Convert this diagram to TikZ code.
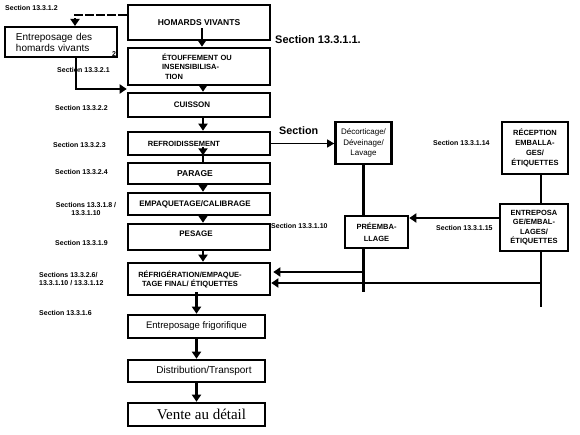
\documentclass[tikz,border=0pt]{standalone}
\usepackage{fontspec}
\setmainfont{Liberation Sans}
\newfontfamily\serifont{Liberation Serif}
\usetikzlibrary{arrows.meta,calc}
\tikzset{
  box/.style={draw, line width=2.6pt, inner sep=0pt, align=center, font=\fontsize{8}{9.5}\selectfont\bfseries},
  rbox/.style={box, font=\fontsize{9.5}{11}\selectfont},
  lbl/.style={inner sep=0pt, font=\fontsize{7}{8.5}\selectfont\bfseries},
  ln/.style={line width=2.2pt},
  arr/.style={line width=2.2pt, -{Triangle[width=9pt,length=7pt]}},
  thinarr/.style={line width=1pt, -{Triangle[width=8pt,length=7pt]}},
  dline/.style={line width=2.2pt, dash pattern=on 9pt off 2pt, -{Triangle[width=9pt,length=7pt]}},
}
\begin{document}
\begin{tikzpicture}[x=1pt,y=-1pt]
\useasboundingbox (0,0) rectangle (580,435);
\fill[white] (0,0) rectangle (580,435);

% main column
\node[box, minimum width=142pt, minimum height=35pt, font=\fontsize{8.5}{10}\selectfont\bfseries] (homards) at (199,22.5) {HOMARDS VIVANTS};
\node[box, align=left, text width=74pt, inner xsep=34pt, minimum height=37pt, font=\fontsize{7.5}{9.5}\selectfont\bfseries] (etouf) at (199,66.5) {ÉTOUFFEMENT OU\\INSENSIBILISA-\\\hspace*{3pt}TION};
\node[box, minimum width=142pt, minimum height=24pt] (cuisson) at (199,105) {CUISSON\hspace*{14pt}};
\node[box, minimum width=142pt, minimum height=23pt, font=\fontsize{7.5}{9}\selectfont\bfseries] (refroid) at (199,143.5) {REFROIDISSEMENT\hspace*{30pt}};
\node[box, minimum width=142pt, minimum height=21pt, font=\fontsize{8.5}{10}\selectfont\bfseries] (parage) at (199,173.5) {PARAGE\hspace*{8pt}};
\node[box, minimum width=142pt, minimum height=22pt] (empaq) at (199,204) {EMPAQUETAGE/CALIBRAGE\hspace*{8pt}};
\node[box, minimum width=142pt, minimum height=26pt] (pesage) at (199,237) {\raisebox{6pt}{PESAGE}\hspace*{6pt}};
\node[box, minimum width=142pt, minimum height=32pt, font=\fontsize{7.5}{9}\selectfont\bfseries] (refrig) at (199,279) {RÉFRIGÉRATION/EMPAQUE-\hspace*{18pt}\\TAGE FINAL/ ÉTIQUETTES\hspace*{18pt}};
\node[rbox, minimum width=137pt, minimum height=23pt] (frigo) at (196.5,326.5) {Entreposage frigorifique};
\node[rbox, minimum width=137pt, minimum height=22pt, font=\fontsize{10}{12}\selectfont] (distrib) at (196.5,371) {\hspace*{15pt}Distribution/Transport};
\node[rbox, minimum width=137pt, minimum height=23pt, font=\fontsize{15}{16}\serifont] (vente) at (196.5,414.5) {\hspace*{10pt}Vente au détail};

% left storage box
\node[box, line width=2pt, align=left, text width=90pt, inner xsep=11pt, minimum height=30pt, font=\fontsize{10}{11}\selectfont] (entrep) at (61,42) {Entreposage des\\homards vivants};

% right column
\node[box, minimum width=56pt, minimum height=42pt, font=\fontsize{8}{10.5}\selectfont] (decort) at (363.5,143) {Décorticage/\\Déveinage/\\Lavage};
\node[box, minimum width=63pt, minimum height=32pt, font=\fontsize{7.5}{12}\selectfont\bfseries] (preemb) at (376.5,232) {PRÉEMBA-\\LLAGE};
\node[box, minimum width=66pt, minimum height=52pt, font=\fontsize{7.5}{10}\selectfont\bfseries] (recep) at (535,148) {RÉCEPTION\\EMBALLA-\\GES/\\ÉTIQUETTES};
\node[box, minimum width=68pt, minimum height=47pt, font=\fontsize{7.5}{9.5}\selectfont\bfseries] (entrepo) at (534,227.5) {ENTREPOSA\\GE/EMBAL-\\LAGES/\\ÉTIQUETTES};

% free-end coordinates
\coordinate (pe) at (363.5,292);
\coordinate (qe) at (541,307);
\coordinate (r1) at ([yshift=7pt]refrig.east);
\coordinate (r2) at ([yshift=-4pt]refrig.east);

% main connectors
\draw[arr] ([xshift=3pt,yshift=13pt]homards.south) -- ([xshift=3pt]etouf.north);
\draw[arr] ([xshift=4pt]etouf.south) -- ([xshift=4pt]cuisson.north);
\draw[arr] ([xshift=4pt]cuisson.south) -- ([xshift=4pt]refroid.north);
\draw[arr] ([xshift=4pt,yshift=9pt]refroid.south) -- ([xshift=4pt,yshift=1pt]refroid.south);
\draw[ln] ([xshift=4pt]refroid.south) -- ([xshift=4pt]parage.north);
\draw[arr] ([xshift=4pt]parage.south) -- ([xshift=4pt]empaq.north);
\draw[arr] ([xshift=4pt]empaq.south) -- ([xshift=4pt]pesage.north);
\draw[arr] ([xshift=4pt]pesage.south) -- ([xshift=4pt]refrig.north);
\draw[arr] ([yshift=4pt]refrig.south -| frigo.north) -- (frigo.north);
\draw[arr] (frigo.south) -- (distrib.north);
\draw[arr] (distrib.south) -- (vente.north);

% left connectors
\draw[dline] ([yshift=7.5pt]homards.west) -| ([xshift=14pt]entrep.north);
\draw[arr] ([xshift=15pt]entrep.south) |- ($(etouf.south west)!0.5!(cuisson.north west)$);

% right connectors
\draw[thinarr] (refroid.east) -- (refroid.east -| decort.west);
\draw[ln] (decort.south) -- (decort.south |- preemb.north);
\draw[ln] (decort.south |- preemb.south) -- (pe);
\draw[arr] (pe |- r1) -- ([xshift=2pt]r1);
\draw[ln] ([xshift=6pt]recep.south) -- ([xshift=6pt]recep.south |- entrepo.north);
\draw[ln] ([xshift=6pt]recep.south |- entrepo.south) -- (qe);
\draw[arr] (qe |- r2) -- (r2);
\draw[arr] ([yshift=9.5pt]entrepo.west) -- ([yshift=9.5pt]entrepo.west -| preemb.east);

% labels
\node[lbl, anchor=west] (s1) at (5,8) {Section 13.3.1.2};
\node[lbl, anchor=west] (s2) at (57,70) {Section 13.3.2.1};
\node[lbl, font=\fontsize{7}{8}\selectfont\bfseries] (two) at (114,54) {2};
\node[lbl, anchor=west] (s3) at (55,108) {Section 13.3.2.2};
\node[lbl, anchor=west] (s4) at (53,145) {Section 13.3.2.3};
\node[lbl, anchor=west] (s5) at (55,172) {Section 13.3.2.4};
\node[lbl, align=center] (s6) at (86,209) {Sections 13.3.1.8 /\\13.3.1.10};
\node[lbl, anchor=west] (s7) at (55,243) {Section 13.3.1.9};
\node[lbl, anchor=west, align=left] (s8) at (39,279) {Sections 13.3.2.6/\\13.3.1.10 / 13.3.1.12};
\node[lbl, anchor=west] (s9) at (39,313) {Section 13.3.1.6};
\node[lbl, anchor=west, font=\fontsize{11}{13}\selectfont\bfseries] (s10) at (275,40) {Section 13.3.1.1.};
\node[lbl, anchor=west, font=\fontsize{10.8}{12}\selectfont\bfseries] (s11) at (279,131) {Section};
\node[lbl, anchor=west] (s12) at (271,226) {Section 13.3.1.10};
\node[lbl, anchor=west] (s13) at (433,143) {Section 13.3.1.14};
\node[lbl, anchor=west] (s14) at (436,228) {Section 13.3.1.15};
\end{tikzpicture}
\end{document}
